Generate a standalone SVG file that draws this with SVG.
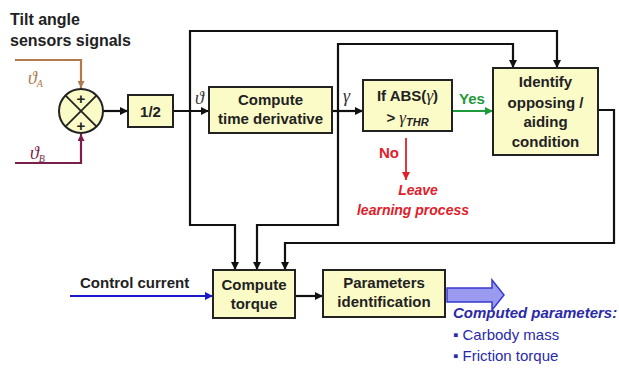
<svg xmlns="http://www.w3.org/2000/svg" width="619" height="371" viewBox="0 0 619 371">
<defs>
<marker id="ah" viewBox="0 0 10 10" refX="10" refY="5" markerWidth="8" markerHeight="8" markerUnits="userSpaceOnUse" orient="auto"><path d="M0,0 L10,5 L0,10 z" fill="#111"/></marker>
<marker id="ahg" viewBox="0 0 10 10" refX="10" refY="5" markerWidth="8" markerHeight="8" markerUnits="userSpaceOnUse" orient="auto"><path d="M0,0 L10,5 L0,10 z" fill="#1e9a3a"/></marker>
<marker id="ahr" viewBox="0 0 10 10" refX="10" refY="5" markerWidth="8" markerHeight="8" markerUnits="userSpaceOnUse" orient="auto"><path d="M0,0 L10,5 L0,10 z" fill="#e0202a"/></marker>
<marker id="ahb" viewBox="0 0 10 10" refX="10" refY="5" markerWidth="8" markerHeight="8" markerUnits="userSpaceOnUse" orient="auto"><path d="M0,0 L10,5 L0,10 z" fill="#1a1acc"/></marker>
<marker id="ahA" viewBox="0 0 10 10" refX="10" refY="5" markerWidth="7" markerHeight="7" markerUnits="userSpaceOnUse" orient="auto"><path d="M0,0 L10,5 L0,10 z" fill="#b07a4a"/></marker>
<marker id="ahB" viewBox="0 0 10 10" refX="10" refY="5" markerWidth="7" markerHeight="7" markerUnits="userSpaceOnUse" orient="auto"><path d="M0,0 L10,5 L0,10 z" fill="#7a1f4a"/></marker>
</defs>
<style>
.box{fill:#fbfbc8;stroke:#222;stroke-width:2}
.t{font-family:"Liberation Sans",Arial,sans-serif;font-weight:bold;font-size:15px;fill:#222;text-anchor:middle}
.w{fill:none;stroke:#111;stroke-width:2.2}
.sym{font-family:"Liberation Serif","Times New Roman",serif;font-style:italic}
</style>
<rect width="619" height="371" fill="#fff"/>

<g id="title">
<text x="10" y="25" font-family="Liberation Sans,Arial,sans-serif" font-weight="bold" font-size="16" fill="#222">Tilt angle</text>
<text x="10" y="46" font-family="Liberation Sans,Arial,sans-serif" font-weight="bold" font-size="16" fill="#222">sensors signals</text>
</g>

<g id="connectors">
<polyline points="15,60 81,60 81,88" fill="none" stroke="#b07a4a" stroke-width="2.2" marker-end="url(#ahA)"/>
<polyline points="15,163 81,163 81,134" fill="none" stroke="#7a1f4a" stroke-width="2.2" marker-end="url(#ahB)"/>
<line x1="103" y1="111" x2="128" y2="111" class="w" marker-end="url(#ah)"/>
<line x1="173" y1="111" x2="209" y2="111" class="w" marker-end="url(#ah)"/>
<line x1="332" y1="111" x2="363" y2="111" class="w" marker-end="url(#ah)"/>
<line x1="452" y1="111" x2="493" y2="111" fill="none" stroke="#1e9a3a" stroke-width="2.2" marker-end="url(#ahg)"/>
<line x1="406" y1="138" x2="406" y2="180" fill="none" stroke="#e0202a" stroke-width="1.8" marker-end="url(#ahr)"/>
<polyline points="190,111 190,31 557,31 557,68" class="w" marker-end="url(#ah)"/>
<polyline points="338,111 338,44 513,44 513,68" class="w" marker-end="url(#ah)"/>
<polyline points="190,111 190,225 235,225 235,270" class="w" marker-end="url(#ah)"/>
<polyline points="338,111 338,225 257,225 257,270" class="w" marker-end="url(#ah)"/>
<polyline points="598,110 614,110 614,243 285,243 285,270" class="w" marker-end="url(#ah)"/>
<line x1="70" y1="296" x2="213" y2="296" fill="none" stroke="#1a1acc" stroke-width="2.2" marker-end="url(#ahb)"/>
<line x1="295" y1="296" x2="323" y2="296" class="w" marker-end="url(#ah)"/>
<path d="M447,288 L492,288 L492,280 L504,295 L492,310 L492,302 L447,302 Z" fill="#9a9af0" stroke="#3a3ad0" stroke-width="1.5"/>
</g>

<g id="labels">
<text x="28" y="84" class="sym" font-size="18" fill="#b07a4a">ϑ<tspan font-size="10" dy="3">A</tspan></text>
<text x="30" y="159" class="sym" font-size="18" fill="#7a1f4a">ϑ<tspan font-size="10" dy="3">B</tspan></text>
<text x="195" y="104" class="sym" font-size="18" fill="#333">ϑ</text>
<text x="343" y="102" class="sym" font-size="18" fill="#333">γ</text>
<text x="459" y="104" font-family="Liberation Sans,Arial,sans-serif" font-weight="bold" font-size="15" fill="#1e9a3a">Yes</text>
<text x="379" y="158" font-family="Liberation Sans,Arial,sans-serif" font-weight="bold" font-size="15" fill="#e0202a">No</text>
<text x="418" y="195" font-family="Liberation Sans,Arial,sans-serif" font-weight="bold" font-style="italic" font-size="14" fill="#e0202a" text-anchor="middle">Leave</text>
<text x="413" y="215" font-family="Liberation Sans,Arial,sans-serif" font-weight="bold" font-style="italic" font-size="14" fill="#e0202a" text-anchor="middle">learning process</text>
<text x="80" y="288" font-family="Liberation Sans,Arial,sans-serif" font-weight="bold" font-size="15" fill="#222">Control current</text>
<text x="453" y="318" font-family="Liberation Sans,Arial,sans-serif" font-weight="bold" font-style="italic" font-size="15" fill="#2a2aa8">Computed parameters:</text>
<text x="453" y="340" font-family="Liberation Sans,Arial,sans-serif" font-size="15" fill="#2a2aa8">▪ Carbody mass</text>
<text x="453" y="361" font-family="Liberation Sans,Arial,sans-serif" font-size="15" fill="#2a2aa8">▪ Friction torque</text>
</g>

<g id="sum">
<circle cx="81" cy="111" r="22" fill="#fbfbc8" stroke="#222" stroke-width="2"/>
<line x1="65.4" y1="95.4" x2="96.6" y2="126.6" stroke="#222" stroke-width="1.8"/>
<line x1="96.6" y1="95.4" x2="65.4" y2="126.6" stroke="#222" stroke-width="1.8"/>
<text x="81" y="104" class="t" font-size="17">+</text>
<text x="81" y="131" class="t" font-size="17">+</text>
</g>

<g id="half">
<rect class="box" x="128" y="95" width="45" height="32"/>
<text x="150.5" y="117" class="t" font-size="17">1/2</text>
</g>

<g id="deriv">
<rect class="box" x="209" y="87" width="123" height="46"/>
<text x="270.5" y="105" class="t">Compute</text>
<text x="270.5" y="124" class="t">time derivative</text>
</g>

<g id="absbox">
<rect class="box" x="363" y="80" width="89" height="51"/>
<text x="407.5" y="101" class="t" font-size="16">If ABS(<tspan class="sym" font-weight="normal" font-size="17">γ</tspan>)</text>
<text x="407.5" y="123" class="t" font-size="16">&gt; <tspan class="sym" font-weight="normal" font-size="17">γ</tspan><tspan font-style="italic" font-size="11" dy="3">THR</tspan></text>
</g>

<g id="identify">
<rect class="box" x="493" y="68" width="105" height="87"/>
<text x="545.5" y="87" class="t">Identify</text>
<text x="545.5" y="108" class="t">opposing /</text>
<text x="545.5" y="127" class="t">aiding</text>
<text x="545.5" y="147" class="t">condition</text>
</g>

<g id="torque">
<rect class="box" x="213" y="270" width="82" height="48"/>
<text x="254" y="290" class="t">Compute</text>
<text x="254" y="309" class="t">torque</text>
</g>

<g id="params">
<rect class="box" x="323" y="270" width="122" height="47"/>
<text x="384" y="288" class="t">Parameters</text>
<text x="384" y="307" class="t">identification</text>
</g>
</svg>
